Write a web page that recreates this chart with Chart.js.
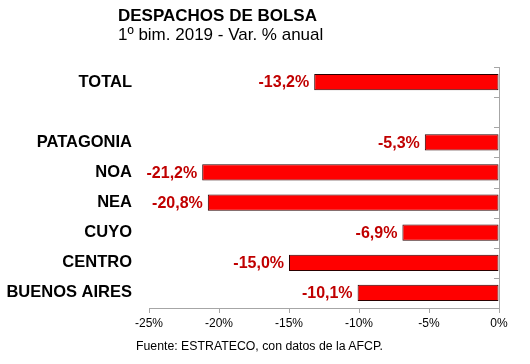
<!DOCTYPE html>
<html lang="es">
<head>
<meta charset="UTF-8">
<title>Despachos de bolsa</title>
<script src="https://cdn.jsdelivr.net/npm/chart.js"></script>
<style>
    body {
        margin: 0;
        padding: 0;
        background: #fff;
        font-family: Arial, "Liberation Sans", sans-serif;
    }
    #wrap {
        position: relative;
        width: 530px;
        height: 364px;
    }
    .title {
        position: absolute;
        left: 118px;
        top: 6px;
        font-size: 17px;
        font-weight: bold;
        line-height: 20px;
        color: #000;
    }
    .subtitle {
        position: absolute;
        left: 118px;
        top: 25px;
        font-size: 17px;
        line-height: 20px;
        color: #000;
    }
    .source {
        position: absolute;
        left: 136px;
        top: 339px;
        font-size: 12.3px;
        line-height: 14px;
        color: #000;
    }
</style>
</head>
<body>
<div id="wrap">
    <canvas id="chart" width="530" height="364"></canvas>
    <div class="title">DESPACHOS DE BOLSA</div>
    <div class="subtitle">1º bim. 2019 - Var. % anual</div>
    <div class="source">Fuente: ESTRATECO, con datos de la AFCP.</div>
</div>
<script>
    // data
    const regions = ['TOTAL', '', 'PATAGONIA', 'NOA', 'NEA', 'CUYO', 'CENTRO', 'BUENOS AIRES'];
    const variation = [-13.2, null, -5.3, -21.2, -20.8, -6.9, -15.0, -10.1];
    const xTicks = [-25, -20, -15, -10, -5, 0];

    const axisGray = '#a6a6a6';
    const fontFam = 'Arial, "Liberation Sans", sans-serif';

    // red value labels just left of each bar end
    const valueLabels = {
        id: 'valueLabels',
        afterDatasetsDraw(chart) {
            const ctx = chart.ctx;
            const meta = chart.getDatasetMeta(0);
            ctx.save();
            ctx.font = 'bold 16px ' + fontFam;
            ctx.fillStyle = '#c00000';
            ctx.textAlign = 'right';
            ctx.textBaseline = 'middle';
            meta.data.forEach((bar, i) => {
                const v = variation[i];
                if (v === null) return;
                const txt = v.toFixed(1).replace('.', ',') + '%';
                ctx.fillText(txt, bar.x - 5, bar.y + 1);
            });
            ctx.restore();
        }
    };

    // small tick marks on the inner side of the 0% axis, at category boundaries
    const innerTicks = {
        id: 'innerTicks',
        afterDraw(chart) {
            const ys = chart.scales.y;
            const ctx = chart.ctx;
            const x0 = chart.chartArea.right;
            ctx.save();
            ctx.strokeStyle = axisGray;
            ctx.lineWidth = 1;
            ctx.beginPath();
            for (let i = 0; i <= regions.length; i++) {
                const y = Math.round(ys.getPixelForValue(i - 0.5)) + 0.5;
                ctx.moveTo(x0 - 5, y);
                ctx.lineTo(x0, y);
            }
            ctx.stroke();
            ctx.restore();
        }
    };

    new Chart(document.getElementById('chart'), {
        type: 'bar',
        data: {
            labels: regions,
            datasets: [{
                data: variation,
                backgroundColor: '#ff0000',
                borderColor: '#2a0000',
                borderWidth: 1,
                borderSkipped: false,
                categoryPercentage: 1,
                barPercentage: 0.54
            }]
        },
        options: {
            indexAxis: 'y',
            responsive: false,
            animation: false,
            layout: { padding: { top: 67, left: 0, right: 0, bottom: 0 } },
            plugins: {
                legend: { display: false },
                tooltip: { enabled: false }
            },
            scales: {
                x: {
                    position: 'bottom',
                    min: -25,
                    max: 0,
                    afterBuildTicks: s => { s.ticks = xTicks.map(v => ({ value: v })); },
                    afterFit: s => { s.height = 56; },
                    ticks: {
                        color: '#000',
                        padding: 3,
                        font: { family: fontFam, size: 12 },
                        callback: v => v + '%'
                    },
                    grid: {
                        drawOnChartArea: false,
                        tickLength: 5,
                        color: axisGray
                    },
                    border: { color: axisGray }
                },
                y: {
                    type: 'category',
                    position: 'right',
                    offset: true,
                    afterFit: s => { s.width = 31; },
                    ticks: { display: false },
                    grid: {
                        offset: true,
                        drawOnChartArea: false,
                        drawTicks: false
                    },
                    border: { color: axisGray }
                },
                yl: {
                    type: 'category',
                    axis: 'y',
                    position: 'left',
                    offset: true,
                    afterFit: s => { s.width = 149; },
                    ticks: {
                        color: '#000',
                        padding: 9,
                        font: { family: fontFam, size: 16.5, weight: 'bold' }
                    },
                    grid: { display: false },
                    border: { display: false }
                }
            }
        },
        plugins: [valueLabels, innerTicks]
    });
</script>
</body>
</html>
